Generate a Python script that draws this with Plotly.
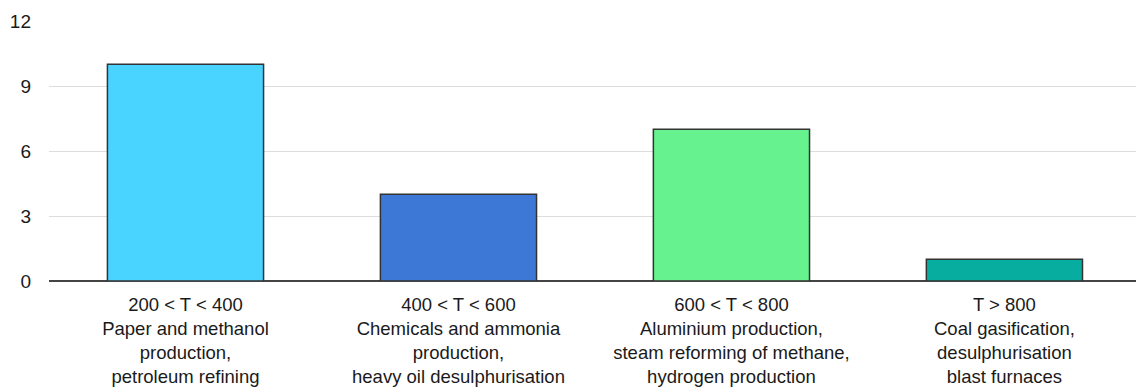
import plotly.graph_objects as go

# Temperature ranges (°C) and the industrial processes that operate in them
categories = [
    "200 < T < 400<br>Paper and methanol<br>production,<br>petroleum refining",
    "400 < T < 600<br>Chemicals and ammonia<br>production,<br>heavy oil desulphurisation",
    "600 < T < 800<br>Aluminium production,<br>steam reforming of methane,<br>hydrogen production",
    "T > 800<br>Coal gasification,<br>desulphurisation<br>blast furnaces",
]
values = [10, 4, 7, 1]
bar_colors = ["#48D4FF", "#3D78D6", "#66F28F", "#07AD9E"]
y_ticks = [0, 3, 6, 9, 12]

positions = list(range(len(categories)))

fig = go.Figure(
    go.Bar(
        x=positions,
        y=values,
        marker=dict(color=bar_colors, line=dict(color="#333333", width=1.5)),
        width=0.572,
        hoverinfo="skip",
    )
)

fig.update_layout(
    width=1136,
    height=388,
    margin=dict(l=49, r=0, t=21, b=107),
    plot_bgcolor="white",
    paper_bgcolor="white",
    showlegend=False,
    font=dict(family="Liberation Sans, Arial, sans-serif", size=18, color="#1A1A1A"),
)

fig.update_xaxes(
    tickmode="array",
    tickvals=positions,
    ticktext=categories,
    range=[-0.5, 3.482],
    showgrid=False,
    showline=False,
    ticks="",
    ticklabelstandoff=10,
    tickfont=dict(size=18.5),
    automargin=False,
)

fig.update_yaxes(
    range=[0, 12],
    tickmode="array",
    tickvals=y_ticks,
    showgrid=True,
    gridcolor="#DDDDDD",
    gridwidth=1,
    zeroline=True,
    zerolinecolor="#444444",
    zerolinewidth=2,
    showline=False,
    ticks="",
    ticklabelstandoff=17,
    tickfont=dict(size=19),
    automargin=False,
)

fig.write_html("out.html")
